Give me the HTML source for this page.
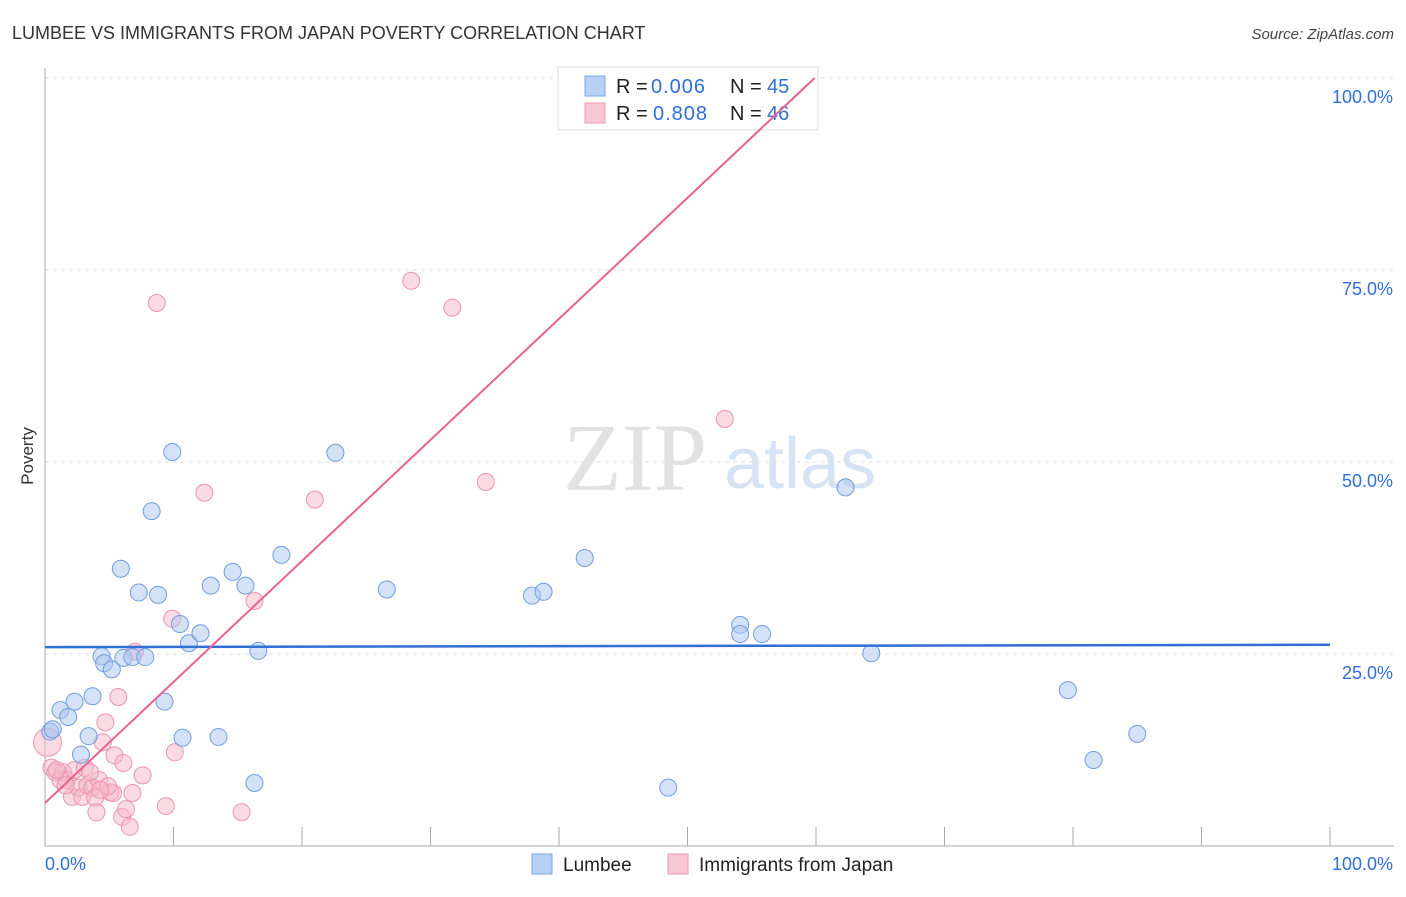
<!DOCTYPE html>
<html><head><meta charset="utf-8"><style>
body{margin:0;background:#fff;font-family:"Liberation Sans",sans-serif;}
</style></head><body>
<svg id="chart" width="1406" height="892" xmlns="http://www.w3.org/2000/svg" font-family="Liberation Sans, sans-serif">
<text x="12" y="39" font-size="18" fill="#333">LUMBEE VS IMMIGRANTS FROM JAPAN POVERTY CORRELATION CHART</text>
<text x="1394" y="39" font-size="15" fill="#444" font-style="italic" text-anchor="end">Source: ZipAtlas.com</text>
<text transform="translate(33,456) rotate(-90)" font-size="17" fill="#333" text-anchor="middle">Poverty</text>
<g>
<text x="635" y="490" font-size="96" fill="#e2e2e2" font-family="Liberation Serif, serif" text-anchor="middle">ZIP</text>
<text x="800" y="488" font-size="72" fill="#d6e3f5" text-anchor="middle">atlas</text>
</g>
<g id="grid"></g>
<g id="axes"></g>
<g id="points"></g>
<g>
<rect x="558" y="67" width="260" height="63" fill="#fff" fill-opacity="0.9" stroke="#ddd"/>
<rect x="585" y="76" width="20" height="20" fill="#b8d0f4" stroke="#7aa6e6"/>
<rect x="585" y="103" width="20" height="20" fill="#f9c6d5" stroke="#ee9ab3"/>
<text x="616" y="93" font-size="20" fill="#222">R = <tspan x="651" fill="#2f6fd6" letter-spacing="1">0.006</tspan></text>
<text x="730" y="93" font-size="20" fill="#222">N = <tspan x="767" fill="#2f6fd6">45</tspan></text>
<text x="616" y="120" font-size="20" fill="#222">R = <tspan x="653" fill="#2f6fd6" letter-spacing="1">0.808</tspan></text>
<text x="730" y="120" font-size="20" fill="#222">N = <tspan x="767" fill="#2f6fd6">46</tspan></text>
</g>
<g id="lines"></g>
<g>
<rect x="532" y="854" width="20" height="20" fill="#b8d0f4" stroke="#7aa6e6"/>
<text x="563" y="871" font-size="19" fill="#222">Lumbee</text>
<rect x="668" y="854" width="20" height="20" fill="#f9c6d5" stroke="#ee9ab3"/>
<text x="699" y="871" font-size="19" fill="#222">Immigrants from Japan</text>
</g>
</svg>
<script>
const yTicks=[25,50,75,100];
const yTickLabels=["25.0%","50.0%","75.0%","100.0%"];
const xEndLabels=["0.0%","100.0%"];
const lumbeeX=[0.4,0.6,1.2,1.8,2.3,2.8,3.4,3.7,4.4,4.6,5.2,5.9,6.1,6.8,7.3,7.8,8.3,8.8,9.3,9.9,10.5,10.7,11.2,12.1,12.9,13.5,14.6,15.6,16.3,16.6,18.4,22.6,26.6,37.9,38.8,42.0,48.5,54.1,54.1,55.8,62.3,64.3,79.6,81.6,85.0];
const lumbeeY=[14.9,15.2,17.7,16.8,18.8,11.9,14.3,19.5,24.7,23.8,23.0,36.1,24.5,24.6,33.0,24.6,43.6,32.7,18.8,51.3,28.9,14.1,26.4,27.7,33.9,14.2,35.7,33.9,8.2,25.4,37.9,51.2,33.4,32.6,33.1,37.5,7.6,28.8,27.6,27.6,46.7,25.1,20.3,11.2,14.6];
const japanX=[0.2,0.5,0.8,1.2,1.4,1.7,2.1,2.3,2.6,2.9,3.1,3.3,3.7,3.9,4.0,4.2,4.5,4.7,5.1,5.3,5.4,5.7,6.0,6.1,6.3,6.6,6.8,7.0,7.6,8.7,9.4,9.9,10.1,12.4,15.3,16.3,21.0,28.5,31.7,34.3,52.9,0.9,1.6,3.5,4.9,4.3];
const japanY=[13.5,10.2,9.6,8.6,9.6,8.6,6.4,9.9,7.6,6.4,10.2,7.9,7.6,6.3,4.4,8.6,13.5,16.1,7.0,6.9,11.8,19.4,3.8,10.8,4.8,2.5,6.9,25.3,9.2,70.7,5.2,29.6,12.2,46.0,4.4,31.9,45.1,73.6,70.1,47.4,55.6,9.9,7.9,9.6,7.8,7.3];
const lumbeeTrend=[25.9,0.003];
const japanTrend=[5.6,1.576];
const X0=45,X1=1330,Y0=846,Y1=78;
const sx=v=>X0+(X1-X0)*v/100, sy=v=>Y0-(Y0-Y1)*v/100;
const NS="http://www.w3.org/2000/svg";
function mk(tag,attrs,parent){const e=document.createElementNS(NS,tag);for(const k in attrs)e.setAttribute(k,attrs[k]);document.getElementById(parent).appendChild(e);return e;}
yTicks.forEach((t,i)=>{
 const l=mk('line',{x1:X0,x2:1394,y1:sy(t),y2:sy(t),stroke:'#ddd','stroke-dasharray':'4,4'},'grid');
 
 
 const tx=mk('text',{x:1393,y:sy(t)+25,'font-size':18,fill:'#2f6fd6','text-anchor':'end'},'grid');
 tx.textContent=yTickLabels[i];
 
 
});
let ax=mk('line',{x1:X0,x2:X0,y1:68,y2:846,stroke:'#aaa'},'axes');


ax=mk('line',{x1:X0,x2:1394,y1:846,y2:846,stroke:'#aaa'},'axes');


for(let i=1;i<=10;i++){const t=mk('line',{x1:sx(i*10),x2:sx(i*10),y1:827,y2:846,stroke:'#aaa'},'axes');
 
 }
let xl=mk('text',{x:45,y:870,'font-size':18,fill:'#2f6fd6'},'axes');xl.textContent=xEndLabels[0];


xl=mk('text',{x:1393,y:870,'font-size':18,fill:'#2f6fd6','text-anchor':'end'},'axes');xl.textContent=xEndLabels[1];


japanX.forEach((x,i)=>{const c=mk('circle',{cx:sx(x),cy:sy(japanY[i]),r:i===0?14:8.5,fill:'#f6b8ca','fill-opacity':0.5,stroke:'#ee94b0','stroke-width':1},'points');
 
 });
lumbeeX.forEach((x,i)=>{const c=mk('circle',{cx:sx(x),cy:sy(lumbeeY[i]),r:8.5,fill:'#a9c6f0','fill-opacity':0.5,stroke:'#6f9ee0','stroke-width':1},'points');
 
 });
const [bi,bs]=lumbeeTrend;
let ln=mk('line',{x1:sx(0),y1:sy(bi),x2:sx(100),y2:sy(bi+bs*100),stroke:'#2f6fd6','stroke-width':2.5},'lines');


const [pi,ps]=japanTrend;
const xe=Math.min(100,(100-pi)/ps);
ln=mk('line',{x1:sx(0),y1:sy(pi),x2:sx(xe),y2:sy(pi+ps*xe),stroke:'#e8628c','stroke-width':2},'lines');


</script>
</body></html>
